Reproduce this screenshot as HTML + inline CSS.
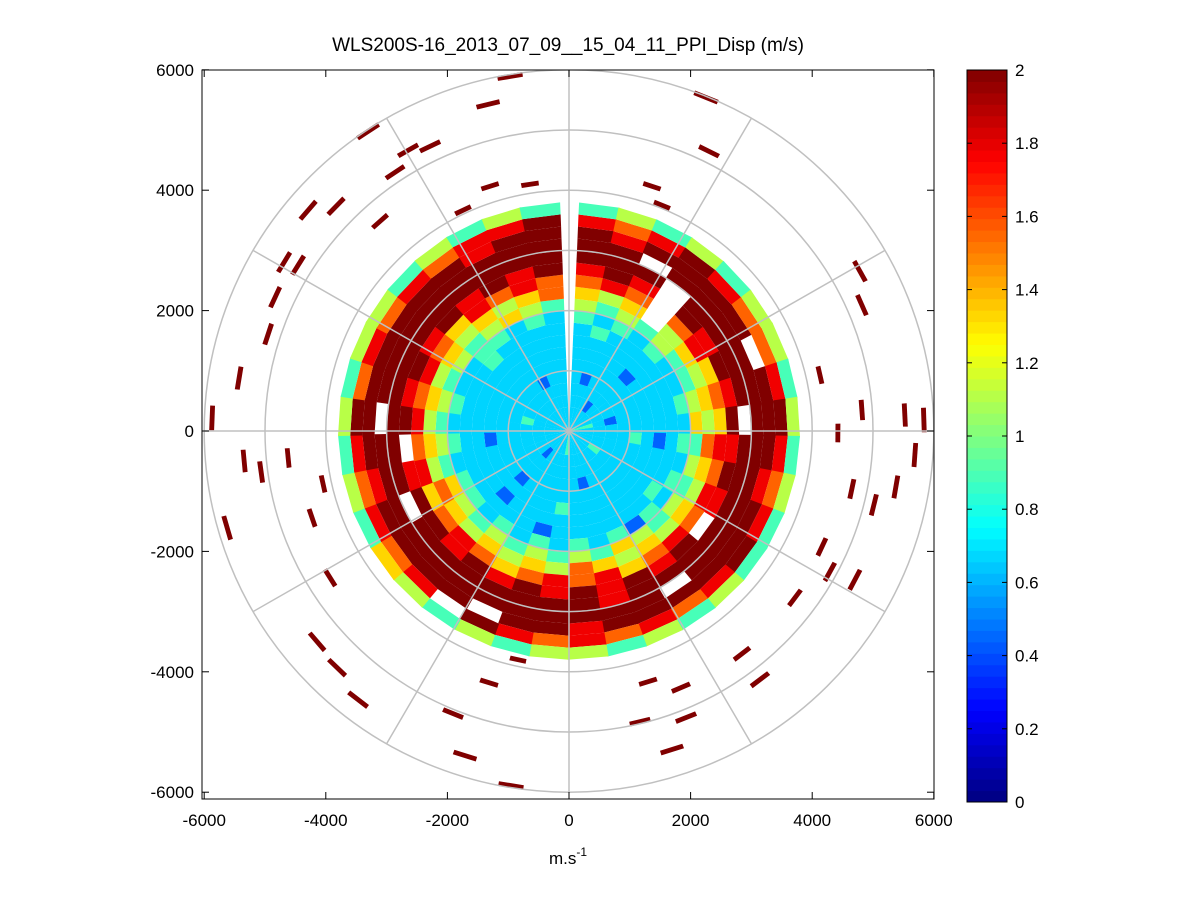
<!DOCTYPE html>
<html><head><meta charset="utf-8"><style>
body{margin:0;background:#fff;}
svg{display:block;font-family:"Liberation Sans",sans-serif;}
</style></head><body>
<svg id="s" width="1201" height="901" viewBox="0 0 1201 901">
<rect width="1201" height="901" fill="#fff"/>
<defs><clipPath id="clip"><rect x="202" y="70" width="732" height="729"/></clipPath></defs>
<text x="568" y="51" font-size="19" text-anchor="middle">WLS200S-16_2013_07_09__15_04_11_PPI_Disp (m/s)</text>
<g id="cells" clip-path="url(#clip)"></g>
<g id="grid" clip-path="url(#clip)"></g>
<rect x="202" y="70" width="732" height="729" fill="none" stroke="#000" stroke-width="1"/>
<g id="axes"></g>
<text x="568" y="864" font-size="17" text-anchor="middle">m.s<tspan font-size="12" dy="-8">-1</tspan></text>
<g id="cbar"></g>
</svg>
<script>
const ringStart = 200, ringStep = 200;
const azStart = 2.5, azSpan = 355;
const rings = [
"333333343333333333433333333333333333",
"333233333333433333333323333333333333",
"333333323333333333333333333343333333",
"323333333333333323333333333333333233",
"333333333433333333333323333333333333",
"333323333333333333433333332333333333",
"333333333233333333333323333333333333",
"343333333333433333323333333333343333",
"434343343434342434343434434343344343",
"545454456454545645454545645454545654",
"656x56565765656567565656756565656567",
"787x78676878787687876787687878768787",
"898x98989898x9898989898998x989898989",
"999x9999x999999989999999x99999999999",
"99x99999999999x999999999999x99999999",
"989999x9998999999899x999989999999899",
"878987789878987878789x87878978787889",
"454545545454454545545456454545545454"];
const outerX = [-1332,-970,-3306,-2648,-2287,-2862,-4293,-3833,-3109,-1300,-642,-1744,2303,2254,1365,1530,4787,4820,-4688,-4458,-4836,-4951,-5429,-5873,-5346,-5067,-4622,-4047,-5626,-4228,-3932,-3816,-4145,-3471,-1908,-1316,-839,-1711,-954,1300,1842,1168,1925,1694,3718,4293,4162,4705,4655,4820,5527,5840,5692,5379,5017,4129,4425,2846,3142];
const outerY = [5428,5893,4980,4665,4731,4300,3669,3735,3486,4067,4100,3669,4648,5544,4067,3752,2656,2092,2805,2756,2224,1610,880,216,-498,-681,-448,-880,-1610,-1444,-2440,-3934,-3503,-4465,-4698,-4183,-3801,-5395,-5893,-4167,-4266,-4831,-4764,-5295,-2772,-2341,-1926,-2473,-963,349,266,183,-398,-930,-1229,930,-33,-3702,-4133];
const xTicks = [-6000,-4000,-2000,0,2000,4000,6000];
const yTicks = [-6000,-4000,-2000,0,2000,4000,6000];
const cbTicks = [0,0.2,0.4,0.6,0.8,1,1.2,1.4,1.6,1.8,2];

const NS='http://www.w3.org/2000/svg';
const X = v => 569 + v*0.0608;
const Y = v => 431 - v*0.0602;
const CY = v => 802 - v/2*732;
function jet(t){t=Math.max(0,Math.min(1,t));
 const f=x=>Math.max(0,Math.min(1,x));
 const r=f(1.5-Math.abs(4*t-3)),g=f(1.5-Math.abs(4*t-2)),b=f(1.5-Math.abs(4*t-1));
 return `rgb(${Math.round(r*255)},${Math.round(g*255)},${Math.round(b*255)})`;}
function sector(r0,r1,a0,a1){
 const p=(r,a)=>{const t=a*Math.PI/180;return X(r*Math.sin(t)).toFixed(1)+','+Y(r*Math.cos(t)).toFixed(1);};
 return `M${p(r0,a0)}L${p(r1,a0)}L${p(r1,a1)}L${p(r0,a1)}Z`;}
function mk(tag,attrs,parent){const e=document.createElementNS(NS,tag);for(const k in attrs)e.setAttribute(k,attrs[k]);parent.appendChild(e);return e;}
const cells=document.getElementById('cells');
rings.forEach((row,i)=>{
 const n=row.length, w=azSpan/n;
 for(let j=0;j<n;j++){const c=row[j]; if(c==='x')continue;
  const v=(+c)*2/9;
  const e=mk('path',{d:sector(ringStart+i*ringStep-(i===0?200:0),ringStart+(i+1)*ringStep,azStart+j*w,azStart+(j+1)*w+0.3),fill:jet(v/2)},cells);
  
  
 }});
outerX.forEach((x,i)=>{const y=outerY[i];
 const r=Math.hypot(x,y), a=Math.atan2(x,y)*180/Math.PI;
 const e=mk('path',{d:sector(r-40,r+40,a-2,a+2),fill:jet(1)},cells);
 
 
});
const grid=document.getElementById('grid');
for(let r=1000;r<=6000;r+=1000){
 const e=mk('ellipse',{cx:X(0),cy:Y(0),rx:r*0.0608,ry:r*0.0602,fill:'none',stroke:'#c0c0c0','stroke-width':1.5},grid);
 
 
}
for(let a=0;a<360;a+=30){const t=a*Math.PI/180;
 const e=mk('line',{x1:X(0),y1:Y(0),x2:X(6000*Math.sin(t)),y2:Y(6000*Math.cos(t)),stroke:'#c0c0c0','stroke-width':1.5},grid);
 
 
}
const axes=document.getElementById('axes');
xTicks.forEach(v=>{
 mk('line',{x1:X(v),x2:X(v),y1:799,y2:792,stroke:'#000'},axes);
 mk('line',{x1:X(v),x2:X(v),y1:70,y2:77,stroke:'#000'},axes);
 const t=mk('text',{x:X(v),y:826,'font-size':17,'text-anchor':'middle'},axes);t.textContent=v;
 
 
});
yTicks.forEach(v=>{
 mk('line',{x1:202,x2:209,y1:Y(v),y2:Y(v),stroke:'#000'},axes);
 mk('line',{x1:934,x2:927,y1:Y(v),y2:Y(v),stroke:'#000'},axes);
 const t=mk('text',{x:194,y:Y(v)+6,'font-size':17,'text-anchor':'end'},axes);t.textContent=v;
 
 
});
const cb=document.getElementById('cbar');
for(let k=0;k<64;k++){
 const e=mk('rect',{x:967,y:CY((k+1)*2/64),width:40,height:732/64+0.5,fill:jet((k+0.5)/64)},cb);
 
 
}
mk('rect',{x:967,y:70,width:40,height:732,fill:'none',stroke:'#000'},cb);
cbTicks.forEach(v=>{
 mk('line',{x1:1007,x2:1002,y1:CY(v),y2:CY(v),stroke:'#000'},cb);
 mk('line',{x1:967,x2:972,y1:CY(v),y2:CY(v),stroke:'#000'},cb);
 const t=mk('text',{x:1015,y:CY(v)+6,'font-size':17},cb);t.textContent=v;
 
 
});
</script>
</body></html>
